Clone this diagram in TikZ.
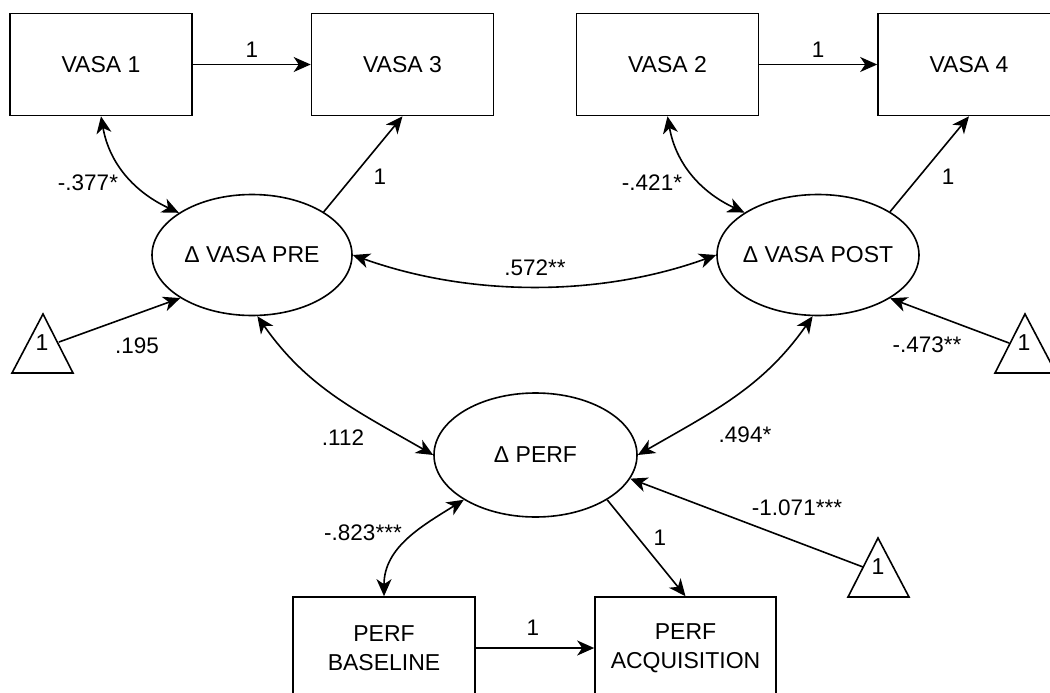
\documentclass[tikz,border=0pt]{standalone}
\usepackage{fontspec}
\setmainfont{Liberation Sans}
\usetikzlibrary{arrows.meta,shapes.geometric}
\tikzset{
  obs/.style={draw, line width=1.6pt, rectangle, minimum width=182pt, minimum height=102pt, inner sep=0pt, align=center, font=\fontsize{23}{29}\selectfont},
  lat/.style={draw, line width=1.6pt, ellipse, inner sep=0pt, font=\fontsize{23}{28}\selectfont},
  lab/.style={fill=white, inner sep=1pt, font=\fontsize{22.5}{26}\selectfont},
  tri/.style={draw, line width=1.6pt, line join=miter},
  one/.style={inner sep=0pt, font=\fontsize{23}{28}\selectfont},
  tip/.style={Stealth[length=17pt, width=15pt, inset=5pt]},
  arr/.style={line width=1.6pt, -{Stealth[length=17pt, width=15pt, inset=5pt]}},
  cov/.style={line width=1.6pt, {Stealth[length=17pt, width=15pt, inset=5pt]}-{Stealth[length=17pt, width=15pt, inset=5pt]}}
}
\begin{document}
\begin{tikzpicture}[x=1pt,y=1pt]
\useasboundingbox (0,-693) rectangle (1050,0);
\clip (0,-693) rectangle (1050,0);
\fill[white] (0,-693) rectangle (1050,0);
% observed
\node[obs] (v1) at (101,-64.5) {VASA 1};
\node[obs] (v3) at (402.5,-64.5) {VASA 3};
\node[obs] (v2) at (667.5,-64.5) {VASA 2};
\node[obs] (v4) at (969,-64.5) {VASA 4};
\node[obs] (base) at (384,-648) {PERF\\BASELINE};
\node[obs, minimum width=181pt] (acq) at (685.5,-648) {PERF\\ACQUISITION};
% latent
\node[lat, minimum width=200pt, minimum height=121pt] (pre) at (252,-255) {\makebox[0pt]{Δ VASA PRE}};
\node[lat, minimum width=202pt, minimum height=121pt] (post) at (818,-255) {\makebox[0pt]{Δ VASA POST}};
\node[lat, minimum width=203pt, minimum height=124pt] (perf) at (535.5,-455) {\makebox[0pt]{Δ PERF}};
% constants
\draw[tri] (43,-314) -- (73,-373) -- (12,-373) -- cycle;
\node[one] (t1) at (42,-343) {1};
\coordinate (c1) at (59,-342);
\draw[tri] (1025,-314) -- (1056,-373) -- (995,-373) -- cycle;
\node[one] (t2) at (1024,-343) {1};
\coordinate (c2) at (1009,-343);
\draw[tri] (878,-538) -- (909,-597) -- (848,-597) -- cycle;
\node[one] (t3) at (878,-567) {1};
\coordinate (c3) at (863,-567);
% paths
\draw[arr] (v1.east) -- (v3.west);
\draw[arr] (v2.east) -- (v4.west);
\draw[arr] (base.east) -- (acq.west);
\draw[arr] (pre.31) -- (v3.south);
\draw[arr] (post.31) -- (v4.south);
\draw[arr] (perf.-32) -- (acq.north);
\draw[arr] (c1) -- (pre.211);
\draw[arr] (c2) -- (post.-31);
\draw[arr] (c3) -- (perf.-14.5);
% covariances
\draw[cov] (v1.south) to[out=-80, in=155] (pre.150);
\draw[cov] (v2.south) to[out=-80, in=155] (post.150);
\draw[cov] (pre.east) .. controls (470,-297) and (600,-297) .. (post.west);
\draw[cov] (pre.-85) to[out=-55, in=150] (perf.west);
\draw[cov] (post.-95) to[out=-125, in=30] (perf.east);
\draw[cov] (perf.212) to[out=212, in=90] (base.north);
% labels
\node[lab] (l1) at (252,-50) {1};
\node[lab] (l2) at (818,-50) {1};
\node[lab] (l3) at (533,-628) {1};
\node[lab] (l4) at (380,-177) {1};
\node[lab] (l5) at (948,-177) {1};
\node[lab] (l6) at (660,-538) {1};
\node[lab] (l7) at (88,-183) {-.377*};
\node[lab] (l8) at (652,-183) {-.421*};
\node[lab] (l9) at (535,-268) {.572**};
\node[lab] (l10) at (137,-346) {.195};
\node[lab] (l11) at (927,-345) {-.473**};
\node[lab] (l12) at (343,-438) {.112};
\node[lab] (l13) at (745,-435) {.494*};
\node[lab] (l14) at (797,-508) {-1.071***};
\node[lab] (l15) at (363,-533) {-.823***};
\end{tikzpicture}
\end{document}
